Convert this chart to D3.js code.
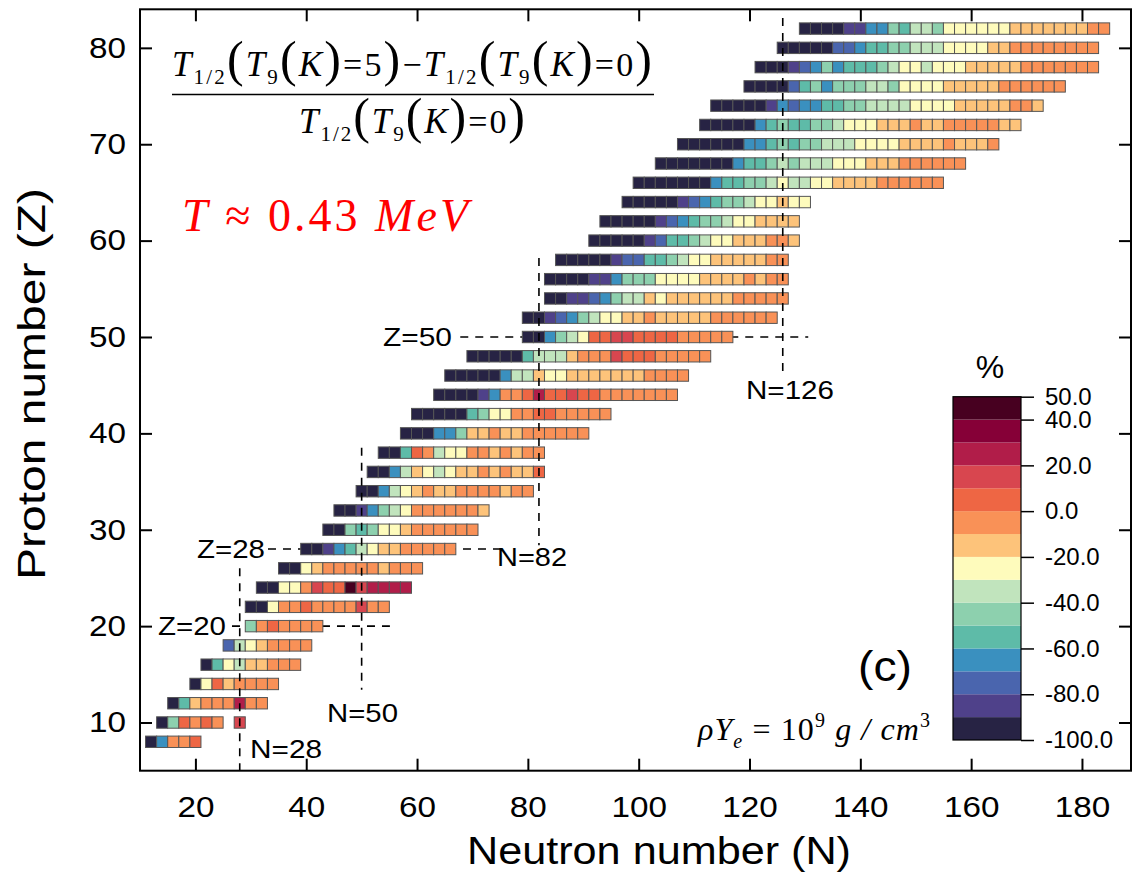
<!DOCTYPE html>
<html>
<head>
<meta charset="utf-8">
<script src="https://cdn.jsdelivr.net/npm/d3@7"></script>
<style>
  body { margin: 0; background: #fff; }
</style>
</head>
<body>
<svg id="chart" width="1132" height="876" font-family="'Liberation Sans', Arial, sans-serif"></svg>
<script>
// proton number of each row and the neutron number of its first cell (cells step by 2 in N)
var protonZ = [8,10,12,14,16,18,20,22,24,26,28,30,32,34,36,38,40,42,44,46,48,50,52,54,56,58,60,62,64,66,68,70,72,74,76,78,80,82];
var firstN  = [12,14,16,20,22,26,30,30,32,36,40,44,46,50,52,54,58,60,64,66,70,80,80,84,84,86,92,94,98,100,104,108,112,114,120,122,126,130];

// relative change of the half-life in %, one list per row (null = no nucleus drawn)
var changePct = [
  [-95,-65,-5,-5,5],
  [-95,-45,5,-5,5,-5,null,15],
  [-95,-55,-15,-5,-5,-5,25,-5,-5],
  [-95,-25,5,-15,-5,-5,-5,-5],
  [-95,-55,-25,-35,-15,-15,-5,-5,-5],
  [-75,-35,-25,-15,-5,-5,-5,-5],
  [-45,-5,5,-5,-5,-5,-5],
  [-95,-95,-25,-5,-5,5,-5,-5,-5,-5,15,-5,-5],
  [-95,-95,-25,-25,-5,15,5,5,45,15,25,25,25,25],
  [-95,-95,-25,-15,-5,-5,-5,-5,-5,-15,-5,-5,-5],
  [-95,-95,-85,-65,-55,-35,-25,-15,-15,-5,-5,-5,-5,-5],
  [-95,-95,-45,-55,-45,-25,-25,-15,-5,-5,-5,-5,-5,-5],
  [-95,-95,-85,-65,-45,-35,-25,-5,-5,-5,-5,-5,-5,-15],
  [-95,-95,-65,-35,-25,-15,-5,-15,-15,-5,-5,-5,-5,-15,-5,-5],
  [-95,-95,-65,-35,-15,-25,-35,-25,-15,-15,-5,-15,-5,-15,-15,5],
  [-95,-95,-55,5,-5,-35,-25,-25,-5,-5,-15,-5,-15,-5,-5],
  [-95,-95,-95,-65,-65,-45,-15,-15,-5,-15,-15,-5,-5,-5,-5,-5,-5],
  [-95,-95,-95,-95,-95,-55,-45,-25,-25,-5,-5,5,5,-5,-5,-5,-5,-5],
  [-95,-95,-95,-95,-85,-65,-5,-5,5,25,5,5,15,5,5,-5,-5,-5,-5,-5,-5,-5],
  [-95,-95,-95,-95,-95,-65,-35,-35,-15,-25,-25,-15,-15,-15,-15,-15,-15,-15,-5,-5,-5,-5],
  [-95,-95,-95,-95,-95,-55,-35,-35,-35,-15,-5,-5,-5,15,5,5,5,-5,-5,-5,-5,-5],
  [-95,-95,-65,-45,-35,-25,5,5,15,15,5,5,5,5,-5,-5,-5,-5,-5],
  [-95,-95,-85,-75,-65,-45,-35,-25,-25,-15,-15,-5,-15,-15,-15,-15,-15,-5,-5,-5,-5,-5,-5],
  [-95,-95,-85,-85,-75,-65,-45,-35,-35,-15,-25,-15,-15,-15,-15,-15,-15,-5,-5,-5,-5,-5],
  [-95,-95,-95,-95,-85,-85,-65,-45,-45,-45,-25,-25,-25,-25,-15,-15,-15,-15,-5,-15,-5,-5],
  [-95,-95,-95,-95,-95,-85,-75,-75,-55,-55,-45,-35,-25,-25,-15,-15,-15,-15,-15,-5,-5],
  [-95,-95,-95,-95,-95,-85,-75,-55,-55,-45,-35,-25,-25,-15,-15,-15,-5,-5,-15],
  [-95,-95,-95,-95,-95,-85,-75,-65,-55,-45,-45,-35,-25,-25,-15,-15,-15,-15],
  [-95,-95,-95,-95,-95,-85,-75,-65,-55,-45,-45,-35,-25,-25,-15,-25,-25],
  [-95,-95,-95,-95,-95,-95,-95,-65,-55,-55,-45,-45,-35,-25,-35,-35,-25,-25,-15,-15,-15,-15,-5,-5,-5,-5,-5,-5],
  [-95,-95,-95,-95,-95,-95,-95,-65,-55,-55,-45,-35,-45,-35,-35,-35,-25,-25,-25,-15,-15,-15,-5,-5,-5,-5,-5,-5],
  [-95,-95,-95,-95,-95,-95,-65,-65,-55,-45,-55,-45,-45,-35,-35,-35,-25,-25,-25,-25,-15,-15,-15,-15,-5,-15,-15,-15,-5],
  [-95,-95,-95,-95,-95,-65,-55,-45,-55,-55,-45,-45,-35,-25,-25,-25,-15,-15,-15,-5,-15,-15,-5,-5,-5,-5,-5,-15,-15],
  [-95,-95,-95,-95,-95,-85,-65,-75,-65,-65,-55,-55,-45,-45,-35,-35,-35,-35,-25,-25,-25,-25,-15,-15,-15,-15,-15,-5,-5,-15],
  [-95,-95,-95,-95,-75,-55,-45,-65,-45,-45,-45,-35,-35,-45,-25,-25,-25,-25,-15,-15,-15,-15,-15,-5,-5,-5,-5,-5,-5],
  [-95,-95,-95,-85,-75,-65,-45,-65,-55,-55,-55,-45,-35,-25,-25,-35,-25,-25,-25,-15,-15,-15,-15,-15,-5,-5,-5,-5,-5,-5,-5],
  [-95,-95,-95,-95,-95,-75,-75,-65,-55,-55,-45,-45,-35,-35,-35,-25,-25,-25,-25,-15,-15,-5,-5,-5,-5,-5,-5,-5,-5],
  [-95,-95,-95,-95,-85,-85,-65,-65,-45,-55,-35,-35,-45,-25,-25,-25,-25,-25,-25,-15,-15,-15,-15,-15,-15,-15,-5,-5]
];

// magic numbers (dashed lines)
var magicN = [28, 50, 82, 126];
var magicNFrom = [26, 38.5, 58.2, 83.1];   // Z range covered by each vertical line
var magicNTo   = [5, 13.4, 28.4, 46.4];
var magicZ = [20, 28, 50];
var magicZFrom = [26.6, 33.1, 67.8];       // N range covered by each horizontal line
var magicZTo   = [55.1, 75, 130.6];

var xMajor = [20,40,60,80,100,120,140,160,180];
var yMajor = [10,20,30,40,50,60,70,80];
var legendTicks = [50,40,20,0,-20,-40,-60,-80,-100];
var bandColors = ["#272344","#4f418a","#4a65ae","#3a90bf","#5ebba8","#8dd0ae","#c1e4bd","#fefbbc",
                  "#fdc37a","#f99157","#ee6644","#d8464f","#b11d49","#860037","#470020"];

var SANS = "'Liberation Sans', Arial, sans-serif";
var SERIF = "'Liberation Serif','Times New Roman',serif";

var svg = d3.select("#chart");
svg.append("rect").attr("width",1132).attr("height",876).attr("fill","#fff");

var plotL = 140, plotR = 1131, plotT = 9.3, plotB = 770.7;
var x = d3.scaleLinear().domain([10, 188.85]).range([plotL, plotR]);
var y = d3.scaleLinear().domain([5, 84]).range([plotB, plotT]);
var color = d3.scaleQuantize().domain([-100, 50]).range(bandColors);

// horizontal magic lines go behind the cells
svg.selectAll(".hmagic").data(magicZ).enter().append("line")
  .attr("x1", function(d,i){ return x(magicZFrom[i]); })
  .attr("x2", function(d,i){ return x(magicZTo[i]); })
  .attr("y1", function(d){ return y(d); })
  .attr("y2", function(d){ return y(d); })
  .attr("stroke","#000").attr("stroke-width",1.6).attr("stroke-dasharray","8,7");

// cells
var cells = [];
protonZ.forEach(function(z, i){
  changePct[i].forEach(function(v, j){
    if (v === null) return;
    cells.push({z: z, n: firstN[i] + 2*j, v: v});
  });
});
var cellH = 11.4;
svg.append("g").selectAll("rect").data(cells).enter().append("rect")
  .attr("x", function(d){ return x(d.n - 1); })
  .attr("width", function(d){ return x(d.n + 1) - x(d.n - 1); })
  .attr("y", function(d){ return y(d.z) - cellH/2; })
  .attr("height", cellH)
  .attr("fill", function(d){ return color(d.v); })
  .attr("stroke","#555").attr("stroke-width",1);

// vertical magic lines on top
svg.selectAll(".vmagic").data(magicN).enter().append("line")
  .attr("x1", function(d){ return x(d); })
  .attr("x2", function(d){ return x(d); })
  .attr("y1", function(d,i){ return y(magicNFrom[i]); })
  .attr("y2", function(d,i){ return y(magicNTo[i]); })
  .attr("stroke","#000").attr("stroke-width",1.6).attr("stroke-dasharray","8,7");

// magic labels
var magicLabels = [
  {t:"Z=20", x:158, y:626, w:68}, {t:"Z=28", x:197, y:549, w:68}, {t:"Z=50", x:383, y:337, w:69},
  {t:"N=28", x:250, y:749, w:72}, {t:"N=50", x:327, y:713, w:71}, {t:"N=82", x:497, y:557, w:70},
  {t:"N=126", x:746, y:390, w:88}
];
svg.selectAll(".mlab").data(magicLabels).enter().append("text")
  .attr("x", function(d){ return d.x; }).attr("y", function(d){ return d.y; })
  .attr("dy","0.36em").attr("font-size",26)
  .attr("textLength", function(d){ return d.w; }).attr("lengthAdjust","spacingAndGlyphs")
  .text(function(d){ return d.t; });

// axes: ticks inside the frame
function minorTicks(a, b, s){ var r=[]; for (var v=a; v<=b; v+=s) r.push(v); return r; }
var xMinor = minorTicks(12, 188, 4), yMinor = minorTicks(6, 84, 2);

var gB = svg.append("g").attr("transform","translate(0,"+plotB+")");
gB.call(d3.axisBottom(x).tickValues(xMinor).tickSize(-6).tickSizeOuter(0).tickFormat(""));
gB.call(d3.axisBottom(x).tickValues(xMajor).tickSize(-12).tickSizeOuter(0).tickPadding(26));
var gT = svg.append("g").attr("transform","translate(0,"+plotT+")");
gT.call(d3.axisTop(x).tickValues(xMinor).tickSize(-6).tickSizeOuter(0).tickFormat(""));
gT.call(d3.axisTop(x).tickValues(xMajor).tickSize(-12).tickSizeOuter(0).tickFormat(""));
var gL = svg.append("g").attr("transform","translate("+plotL+",0)");
gL.call(d3.axisLeft(y).tickValues(yMinor).tickSize(-6).tickSizeOuter(0).tickFormat(""));
gL.call(d3.axisLeft(y).tickValues(yMajor).tickSize(-12).tickSizeOuter(0).tickPadding(14));
var gR = svg.append("g").attr("transform","translate("+plotR+",0)");
gR.call(d3.axisRight(y).tickValues(yMinor).tickSize(-6).tickSizeOuter(0).tickFormat(""));
gR.call(d3.axisRight(y).tickValues(yMajor).tickSize(-12).tickSizeOuter(0).tickFormat(""));
svg.selectAll(".domain").remove();
svg.selectAll(".tick line").attr("stroke","#000").attr("stroke-width",2);
svg.selectAll(".tick text").attr("font-size",29).attr("fill","#000").attr("font-family",SANS)
  .attr("textLength", function(){ return this.textContent.length * 18.5; })
  .attr("lengthAdjust","spacingAndGlyphs");

svg.append("rect").attr("x",plotL).attr("y",plotT).attr("width",plotR-plotL).attr("height",plotB-plotT)
  .attr("fill","none").attr("stroke","#000").attr("stroke-width",2);

// axis titles
svg.append("text").attr("x",659).attr("y",864).attr("text-anchor","middle")
  .attr("font-size",38).attr("textLength",384).attr("lengthAdjust","spacingAndGlyphs")
  .text("Neutron number (N)");
svg.append("text").attr("transform","translate(45,384) rotate(-90)").attr("text-anchor","middle")
  .attr("font-size",38).attr("textLength",392).attr("lengthAdjust","spacingAndGlyphs")
  .text("Proton number (Z)");

// formula
function mathText(parts, px, py, len){
  var t = svg.append("text").attr("x",px).attr("y",py).attr("font-family",SERIF)
    .attr("textLength",len).attr("lengthAdjust","spacing");
  var shift = 0;
  parts.forEach(function(p){
    var s = t.append("tspan").text(p[0]).attr("font-size", p[1] || 34);
    if (p[2]) s.attr("font-style","italic");
    var want = p[3] || 0;
    if (want !== shift) { s.attr("dy", want - shift); shift = want; }
  });
  return t;
}
var T12 = [["T",35,1],["1/2",21,0,8],["(",50,0],["T",35,1],["9",21,0,8],["(",50,0],["K",35,1],[")",50,0]];
var num = T12.concat([["=",34],["5",34],[")",50]], [["\u2212",34]], T12, [["=",34],["0",34],[")",50]]);
mathText(num, 172, 76, 480);
svg.append("line").attr("x1",172).attr("x2",654).attr("y1",94.5).attr("y2",94.5)
  .attr("stroke","#000").attr("stroke-width",1.6);
mathText(T12.concat([["=",34],["0",34],[")",50]]), 299, 133, 226);

// temperature label
var tl = svg.append("text").attr("x",182).attr("y",231).attr("fill","#ff0000")
  .attr("font-family",SERIF).attr("font-size",46)
  .attr("textLength",286).attr("lengthAdjust","spacing");
tl.append("tspan").attr("font-style","italic").text("T");
tl.append("tspan").text(" \u2248 0.43 ");
tl.append("tspan").attr("font-style","italic").text("MeV");

// panel label and density
svg.append("text").attr("x",858).attr("y",681)
  .attr("font-size",42).attr("textLength",54).attr("lengthAdjust","spacingAndGlyphs").text("(c)");
var dens = svg.append("text").attr("x",698).attr("y",740)
  .attr("font-family",SERIF).attr("font-size",32)
  .attr("textLength",232).attr("lengthAdjust","spacing");
dens.append("tspan").attr("font-style","italic").text("\u03c1Y");
dens.append("tspan").attr("font-style","italic").attr("font-size",20).attr("dy",8).text("e");
dens.append("tspan").attr("dy",-8).text(" = 10");
dens.append("tspan").attr("font-size",20).attr("dy",-13).text("9");
dens.append("tspan").attr("dy",13).attr("font-style","italic").text(" g / cm");
dens.append("tspan").attr("font-size",20).attr("dy",-13).text("3");

// colour legend
var lx = 953, lw = 68;
var yl = d3.scaleLinear().domain([-100, 50]).range([740, 396.7]);
var bands = d3.range(15).map(function(k){ return -100 + 10*k; });
svg.append("g").selectAll("rect").data(bands).enter().append("rect")
  .attr("x", lx).attr("width", lw)
  .attr("y", function(d){ return yl(d + 10); })
  .attr("height", function(d){ return yl(d) - yl(d + 10); })
  .attr("fill", function(d){ return color(d + 5); });
svg.append("rect").attr("x",lx).attr("y",yl(50)).attr("width",lw).attr("height",yl(-100)-yl(50))
  .attr("fill","none").attr("stroke","#000").attr("stroke-width",1.2);
var gLeg = svg.append("g").attr("transform","translate("+(lx+lw)+",0)");
gLeg.call(d3.axisRight(yl).tickValues(legendTicks).tickSize(13).tickPadding(11)
  .tickFormat(function(d){ return d.toFixed(1); }));
gLeg.select(".domain").remove();
gLeg.selectAll(".tick line").attr("stroke","#000").attr("stroke-width",1.5);
gLeg.selectAll(".tick text").attr("font-size",24).attr("fill","#000").attr("font-family",SANS)
  .attr("textLength", null);
svg.append("text").attr("x",990).attr("y",378).attr("text-anchor","middle")
  .attr("font-size",32).text("%");
</script>
</body>
</html>
